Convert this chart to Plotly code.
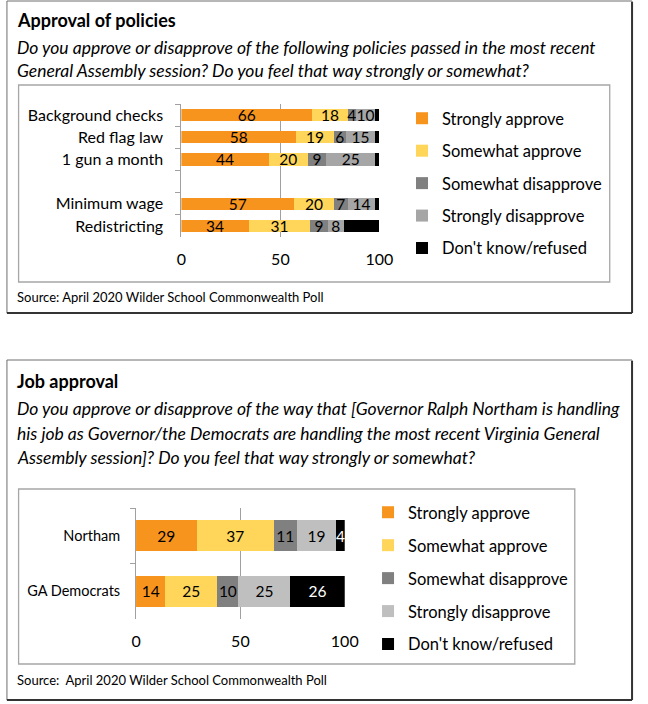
import plotly.graph_objects as go

W, H = 648, 704
FONT = "Lato"

# ---------------- data ----------------
series_names = ["Strongly approve", "Somewhat approve", "Somewhat disapprove",
                "Strongly disapprove", "Don't know/refused"]

policy_labels = ["Background checks", "Red flag law", "1 gun a month", " ",
                 "Minimum wage", "Redistricting"]
pol_strongly_approve = [66, 58, 44, None, 57, 34]
pol_somewhat_approve = [18, 19, 20, None, 20, 31]
pol_somewhat_disapprove = [4, 6, 9, None, 7, 9]
pol_strongly_disapprove = [10, 15, 25, None, 14, 8]
pol_dont_know = [2, 2, 2, None, 2, 18]

job_labels = ["Northam", "GA Democrats"]
job_strongly_approve = [29, 14]
job_somewhat_approve = [37, 25]
job_somewhat_disapprove = [11, 10]
job_strongly_disapprove = [19, 25]
job_dont_know = [4, 26]

x_ticks = [0, 50, 100]

top_colors = ["#F7941D", "#FFD55A", "#808080", "#A6A6A6", "#000000"]
bot_colors = ["#F7941D", "#FFD55A", "#808080", "#BFBFBF", "#000000"]

pol_series = [pol_strongly_approve, pol_somewhat_approve, pol_somewhat_disapprove,
              pol_strongly_disapprove, pol_dont_know]
job_series = [job_strongly_approve, job_somewhat_approve, job_somewhat_disapprove,
              job_strongly_disapprove, job_dont_know]


def px_x(v):
    return v / W


def px_y(v):
    return 1 - v / H


fig = go.Figure()

# top chart traces
for i, (name, vals) in enumerate(zip(series_names, pol_series)):
    show_text = i < 4
    fig.add_trace(go.Bar(
        y=policy_labels, x=vals, orientation="h", name=name,
        marker=dict(color=top_colors[i], line=dict(width=0)),
        width=0.55,
        text=[(str(v) if (v is not None and show_text) else "") for v in vals],
        textposition="inside", insidetextanchor="middle", textangle=0,
        textfont=dict(family=FONT, size=15.5, color="#000000"),
        xaxis="x", yaxis="y", legend="legend", legendgroup="t%d" % i,
        cliponaxis=False,
    ))

# bottom chart traces
for i, (name, vals) in enumerate(zip(series_names, job_series)):
    col = "#FFFFFF" if i == 4 else "#000000"
    fig.add_trace(go.Bar(
        y=job_labels, x=vals, orientation="h", name=name,
        marker=dict(color=bot_colors[i], line=dict(width=0)),
        width=0.56,
        text=[str(v) for v in vals],
        textposition="inside", insidetextanchor="middle", textangle=0,
        textfont=dict(family=FONT, size=15.5, color=col),
        xaxis="x2", yaxis="y2", legend="legend2", legendgroup="b%d" % i,
        cliponaxis=False,
    ))

axis_common_x = dict(
    range=[0, 100], tickvals=x_ticks, ticktext=[str(t) for t in x_ticks],
    showgrid=True, gridcolor="#A0A0A0", gridwidth=1, zeroline=False,
    showline=False, ticks="", tickfont=dict(family=FONT, size=16, color="#000"),
    ticklabelstandoff=11, fixedrange=True,
)
axis_common_y = dict(
    type="category", showgrid=False, zeroline=False, showline=True,
    linecolor="#A0A0A0", linewidth=1, ticks="outside", tickson="boundaries",
    ticklen=5, tickcolor="#A0A0A0", fixedrange=True,
)

fig.update_layout(
    width=W, height=H, autosize=False, margin=dict(l=0, r=0, t=0, b=0),
    paper_bgcolor="white", plot_bgcolor="rgba(0,0,0,0)",
    barmode="stack", showlegend=True,
    font=dict(family=FONT, color="#000"),
    uniformtext=dict(minsize=15.5, mode="show"),
    xaxis=dict(domain=[px_x(181.7), px_x(385.7)], anchor="y", **axis_common_x),
    yaxis=dict(domain=[px_y(237), px_y(104)], anchor="x",
               categoryorder="array", categoryarray=policy_labels,
               range=[len(policy_labels) - 0.5, -0.5],
               tickfont=dict(family=FONT, size=16, color="#000"),
               ticklabelstandoff=14, **axis_common_y),
    xaxis2=dict(domain=[px_x(135), px_x(350)], anchor="y2", **axis_common_x),
    yaxis2=dict(domain=[px_y(619), px_y(508)], anchor="x2",
                categoryorder="array", categoryarray=job_labels,
                range=[len(job_labels) - 0.5, -0.5],
                tickfont=dict(family=FONT, size=14.5, color="#000"),
                ticklabelstandoff=12, **axis_common_y),
    legend=dict(x=px_x(409), y=px_y(101), xanchor="left", yanchor="top",
                bgcolor="rgba(0,0,0,0)", borderwidth=0, traceorder="grouped",
                tracegroupgap=8, font=dict(family=FONT, size=16.5, color="#000"),
                itemclick=False, itemdoubleclick=False),
    legend2=dict(x=px_x(374), y=px_y(495), xanchor="left", yanchor="top",
                 bgcolor="rgba(0,0,0,0)", borderwidth=0, traceorder="grouped",
                 tracegroupgap=8.5, font=dict(family=FONT, size=16.5, color="#000"),
                 itemclick=False, itemdoubleclick=False),
)

shapes = []


def rect(x0, y0, x1, y1, color, width):
    shapes.append(dict(type="rect", xref="paper", yref="paper",
                       x0=px_x(x0), x1=px_x(x1), y0=px_y(y1), y1=px_y(y0),
                       line=dict(color=color, width=width), fillcolor="rgba(0,0,0,0)",
                       layer="below"))


def line(x0, y0, x1, y1, color, width):
    shapes.append(dict(type="line", xref="paper", yref="paper",
                       x0=px_x(x0), x1=px_x(x1), y0=px_y(y0), y1=px_y(y1),
                       line=dict(color=color, width=width)))


# top outer + inner boxes
rect(2, 1, 646, 313, "#6E6E6E", 1)
line(646, 2, 646, 313, "#333333", 2)
line(2, 313, 646, 313, "#333333", 2)
rect(14, 85, 623, 282, "#A6A6A6", 1.3)
# bottom outer + inner boxes
rect(2, 360, 646, 700, "#6E6E6E", 1)
line(646, 361, 646, 700, "#333333", 2)
line(2, 700, 646, 700, "#333333", 2)
rect(14, 489, 587, 664, "#A6A6A6", 1.3)

annotations = []


def text(x, y, s, size, bold=False, italic=False):
    if bold:
        s = "<b>" + s + "</b>"
    if italic:
        s = "<i>" + s + "</i>"
    annotations.append(dict(xref="paper", yref="paper", x=px_x(x), y=px_y(y),
                            xanchor="left", yanchor="middle", showarrow=False,
                            text=s, font=dict(family=FONT, size=size, color="#000")))


text(10, 20, "Approval of policies", 18, bold=True)
text(10, 47, "Do you approve or disapprove of the following policies passed in the most recent", 17.5, italic=True)
text(10, 71, "General Assembly session? Do you feel that way strongly or somewhat?", 17.5, italic=True)
text(10, 297, "Source: April 2020 Wilder School Commonwealth Poll", 13)

text(10, 381, "Job approval", 18, bold=True)
text(10, 408, "Do you approve or disapprove of the way that [Governor Ralph Northam is handling", 17.5, italic=True)
text(10, 433, "his job as Governor/the Democrats are handling the most recent Virginia General", 17.5, italic=True)
text(10, 457, "Assembly session]? Do you feel that way strongly or somewhat?", 17.5, italic=True)
text(10, 680, "Source:\u00a0 April 2020 Wilder School Commonwealth Poll", 13)

fig.update_layout(shapes=shapes, annotations=annotations)

fig.write_html("out.html",
               config=dict(displayModeBar=False, responsive=False),
               post_script="document.body.style.margin='0';"
                           "document.body.style.overflow='hidden';")
